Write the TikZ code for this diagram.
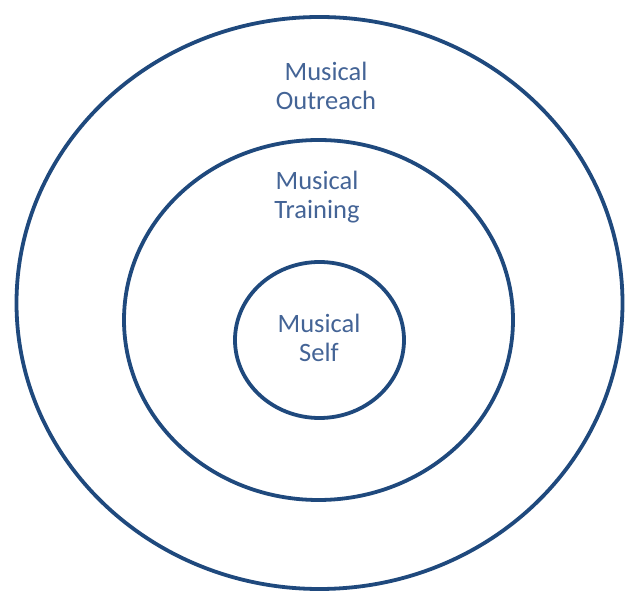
\documentclass[tikz,border=0pt]{standalone}
\usepackage{fontspec}
\setmainfont{Carlito}
\definecolor{ringblue}{RGB}{31,73,125}
\definecolor{textblue}{RGB}{68,100,150}
\begin{document}
\begin{tikzpicture}[x=1pt,y=-1pt,
  ring/.style={draw=ringblue,line width=3.8pt},
  lbl/.style={text=textblue,align=center,font=\fontsize{26.5}{29}\selectfont,inner sep=0pt}]
\useasboundingbox (0,0) rectangle (625,593);
\draw[ring] (319.5,303) ellipse [x radius=303, y radius=286];
\draw[ring] (318.5,320) ellipse [x radius=194.5, y radius=180];
\draw[ring] (319.5,340) ellipse [x radius=84.5, y radius=78];
\node[lbl] (outer) at (326,86) {Musical\\Outreach};
\node[lbl] (middle) at (317,197) {Musical\\Training};
\node[lbl] (inner) at (319,338) {Musical\\Self};
\end{tikzpicture}
\end{document}
